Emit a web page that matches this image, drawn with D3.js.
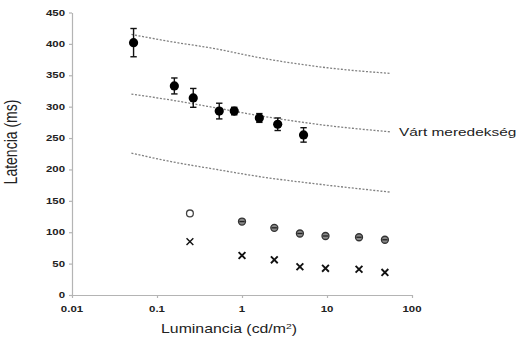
<!DOCTYPE html>
<html><head><meta charset="utf-8">
<script src="https://cdn.jsdelivr.net/npm/d3@7"></script>
<style>body{margin:0;background:#fff}svg{display:block}text{font-family:Arial,"Liberation Sans",sans-serif;fill:#222}</style>
</head><body><svg id="c" width="519" height="339"></svg>
<script>
// Data
const measured = [0.053, 0.16, 0.267, 0.54, 0.81, 1.6, 2.63, 5.3];
const latency = [402, 333, 314, 293, 293, 282, 272, 255];
const latencyErr = [22.5, 12.7, 15, 12.5, 6, 7, 10, 11.5];
const circleLum = [0.244, 1.0, 2.4, 4.8, 9.6, 23.8, 48];
const circleVal = [130, 117, 107, 98, 94, 92, 88];
const crossLum = [0.244, 1.0, 2.4, 4.8, 9.6, 23.8, 48];
const crossVal = [85, 63, 56, 45, 42.5, 41, 36];
const expLum = [0.05, 0.14, 0.5, 1.54, 10, 55];
const expTop = [415, 404, 392, 378.5, 362, 353];
const expMid = [320, 311, 298, 286, 270, 260];
const expLow = [226, 213, 200, 189, 175, 164];
const yTicks = [0, 50, 100, 150, 200, 250, 300, 350, 400, 450];
const xTicks = [0.01, 0.1, 1, 10, 100];
const xTickLabels = ["0.01", "0.1", "1", "10", "100"];
const yTitle = "Latencia (ms)";
const lineLabel = "Várt meredekség";

const svg = d3.select("#c");
const SX = 1.33;
const x = d3.scaleLog().domain([0.01, 100]).range([72, 412]);
const y = d3.scaleLinear().domain([0, 450]).range([295, 12.5]);
const axisCol = "#b4b4b4";

// axes
const gx = svg.append("g").attr("transform", `translate(0,${y(0)})`)
  .call(d3.axisBottom(x).tickValues(xTicks).tickFormat("").tickSize(3).tickSizeOuter(0));
const gy = svg.append("g").attr("transform", `translate(${x(0.01)},0)`)
  .call(d3.axisLeft(y).tickValues(yTicks).tickFormat("").tickSize(3).tickSizeOuter(0));
[gx, gy].forEach(g => { g.selectAll("path,line").attr("stroke", axisCol).attr("stroke-width", 1.2); });

function stext(px, py, str, size, anchor, extra) {
  const t = svg.append("text")
    .attr("transform", `translate(${px},${py}) scale(${SX},1)` + (extra || ""))
    .attr("font-size", size).attr("text-anchor", anchor).text(str);
  return t;
}
yTicks.forEach(v => stext(65, y(v) + 3, String(v), 8.6, "end").attr("font-weight", "bold").attr("fill", "#333"));
xTicks.forEach((v, i) => stext(x(v), 312, xTickLabels[i], 8.6, "middle").attr("font-weight", "bold").attr("fill", "#333"));

// axis titles
const xt = svg.append("text").attr("transform", `translate(229,333) scale(${SX},1)`)
  .attr("font-size", 11.9).attr("text-anchor", "middle");
xt.append("tspan").text("Luminancia (cd/m");
xt.append("tspan").attr("dy", -4).attr("font-size", 7.8).text("2");
xt.append("tspan").attr("dy", 4).text(")");
svg.append("text").attr("transform", `translate(17,142) scale(${SX},1) rotate(-90)`)
  .attr("font-size", 14).attr("text-anchor", "middle").text(yTitle);

// expected slope lines
const line = d3.line().x(d => x(d[0])).y(d => y(d[1])).curve(d3.curveMonotoneX);
[expTop, expMid, expLow].forEach(arr => {
  svg.append("path").attr("d", line(expLum.map((l, i) => [l, arr[i]])))
    .attr("fill", "none").attr("stroke", "#808080").attr("stroke-width", 1.3)
    .attr("stroke-dasharray", "2,1.6");
});
stext(399, 136, lineLabel, 11.6, "start");

// measured with error bars
measured.forEach((l, i) => {
  const cx = x(l), v = latency[i], e = latencyErr[i];
  svg.append("line").attr("x1", cx).attr("x2", cx).attr("y1", y(v - e)).attr("y2", y(v + e))
    .attr("stroke", "#111").attr("stroke-width", 1.4);
  [v - e, v + e].forEach(w => svg.append("line").attr("x1", cx - 3.2).attr("x2", cx + 3.2)
    .attr("y1", y(w)).attr("y2", y(w)).attr("stroke", "#111").attr("stroke-width", 1.4));
  svg.append("circle").attr("cx", cx).attr("cy", y(v)).attr("r", 4.6).attr("fill", "#000");
});

// circles
circleLum.forEach((l, i) => {
  const cx = x(l), cy = y(circleVal[i]);
  if (i === 0) {
    svg.append("circle").attr("cx", cx).attr("cy", cy).attr("r", 3.4)
      .attr("fill", "#fff").attr("stroke", "#444").attr("stroke-width", 1.3);
  } else {
    svg.append("circle").attr("cx", cx).attr("cy", cy).attr("r", 3.5)
      .attr("fill", "#888").attr("stroke", "#333").attr("stroke-width", 1.3);
    svg.append("line").attr("x1", cx - 2.6).attr("x2", cx + 2.6).attr("y1", cy).attr("y2", cy)
      .attr("stroke", "#222").attr("stroke-width", 1.3);
  }
});

// crosses
crossLum.forEach((l, i) => {
  const cx = x(l), cy = y(crossVal[i]), s = 3.4;
  svg.append("path").attr("d", `M${cx - s},${cy - s}L${cx + s},${cy + s}M${cx - s},${cy + s}L${cx + s},${cy - s}`)
    .attr("stroke", "#111").attr("stroke-width", i === 0 ? 1.4 : 1.9).attr("fill", "none");
});
</script></body></html>
